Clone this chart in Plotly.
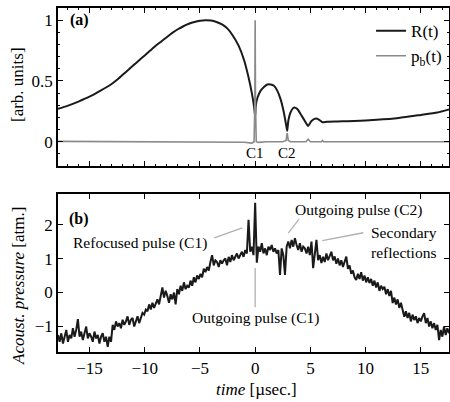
import numpy as np
import plotly.graph_objects as go

# ---- panel (a): bubble radius R(t) and bubble pressure p_b(t) ----
t_R = [-17.85, -17, -16, -15, -14, -13, -12.5, -12, -11.5, -11, -10.5, -10, -9.5, -9,
       -8.5, -8, -7.5, -7, -6.5, -6, -5.5, -5, -4.5, -4, -3.5, -3, -2.5, -2, -1.5,
       -1, -0.6, -0.3, -0.1, 0,
       0.05, 0.2, 0.5, 0.8, 1.1, 1.4, 1.7, 2.0, 2.3, 2.6, 2.8, 2.9,
       3.0, 3.2, 3.5, 3.8, 4.1, 4.5, 4.8, 5.1, 5.5, 5.8, 6.1, 6.5, 7.5,
       9, 11, 13, 15, 16.5, 17.55]
R_vals = [0.27, 0.295, 0.33, 0.37, 0.42, 0.475, 0.51, 0.55, 0.59, 0.63, 0.67, 0.71,
          0.75, 0.79, 0.825, 0.86, 0.895, 0.925, 0.95, 0.97, 0.985, 0.995, 1.0, 0.997,
          0.985, 0.965, 0.93, 0.87, 0.79, 0.67, 0.53, 0.40, 0.29, 0.21,
          0.29, 0.36, 0.42, 0.45, 0.47, 0.47, 0.46, 0.42, 0.35, 0.24, 0.14, 0.09,
          0.17, 0.24, 0.28, 0.27, 0.23, 0.17, 0.13, 0.17, 0.19, 0.18, 0.16, 0.165, 0.167,
          0.17, 0.18, 0.195, 0.22, 0.24, 0.265]

t_pb = [-17.85, -5, -1, -0.3, -0.1, -0.03, 0, 0.03, 0.1, 0.3, 1, 2.5, 2.8, 2.9,
        3.0, 3.2, 4.6, 4.8, 5.0, 6.0, 6.1, 6.2, 17.55]
pb_vals = [0.003, 0.0, -0.004, -0.012, 0.0, 0.3, 1.0, 0.3, 0.0, -0.006, 0.0, 0.0,
           0.01, 0.07, 0.01, 0.0, 0.0, 0.02, 0.0, 0.0, 0.01, 0.0, 0.0]

# ---- panel (b): measured acoustic pressure ----
t_start = -17.85
t_step = 0.15
p_vals = [
    -1.25, -1.45, -1.2, -1.5, -1.3, -1.1, -1.45, -1.25, -1.35, -1.05,
    -1.3, -1.1, -0.78, -1.3, -1.15, -1.4, -1.2, -1.0, -1.35, -1.2,
    -1.3, -1.45, -1.15, -1.35, -1.25, -1.5, -1.3, -1.2, -1.45, -1.3,
    -1.6, -1.3, -1.45, -0.95, -1.1, -0.85, -1.0, -0.9, -1.05, -0.8,
    -0.95, -0.85, -0.7, -0.95, -0.8, -0.75, -1.0, -0.85, -0.7, -0.9,
    -0.75, -0.6, -0.65, -0.5, -0.55, -0.35, -0.5, -0.3, -0.45, -0.35,
    -0.2, -0.35, -0.1, 0.15, -0.15, 0.05, -0.1, -0.3, -0.05, -0.2,
    0.0, -0.35, 0.1, -0.05, 0.2, 0.05, 0.3, 0.1, 0.2, 0.15,
    0.35, 0.2, 0.45, 0.3, 0.5, 0.4, 0.55, 0.45, 0.7, 0.6,
    0.75, 0.65, 0.9, 1.1, 0.8, 0.95, 0.9, 0.75, 0.95, 0.85,
    0.95, 1.0, 0.8, 1.05, 0.9, 1.1, 0.95, 1.05, 1.15, 1.0,
    1.1, 1.2, 1.05, 1.25, 1.15, 2.14, 1.2, 1.35, 1.1, 2.64,
    0.88, 1.35, 1.2, 1.45, 1.15, 1.3, 1.1, 1.35, 1.25, 1.4,
    1.2, 1.3, 1.15, 1.25, 0.52, 1.3, 1.1, 0.52, 1.35, 1.5,
    1.3, 1.55, 1.35, 1.6, 1.4, 1.25, 1.45, 1.2, 1.35, 1.3,
    1.15, 1.35, 1.1, 1.5, 0.72, 1.2, 1.55, 0.95, 1.1, 0.87,
    1.05, 0.9, 1.15, 0.95, 1.1, 1.2, 0.95, 1.06, 0.85, 1.0,
    0.8, 0.95, 0.75, 0.9, 1.06, 0.7, 0.8, 0.55, 0.65, 0.45,
    0.37, 0.55, 0.4, 0.6, 0.35, 0.5, 0.3, 0.45, 0.28, 0.4,
    0.2, 0.35, 0.15, 0.3, 0.05, 0.2, 0.1, 0.17, -0.05, 0.1,
    -0.1, 0.05, -0.31, -0.15, -0.35, -0.2, -0.45, -0.3, -0.5, -0.71,
    -0.55, -0.75, -0.6, -0.85, -0.65, -0.81, -0.7, -0.9, -0.75, -0.85,
    -0.7, -0.61, -0.9, -0.75, -1.0, -0.85, -1.05, -0.9, -1.1, -0.95,
    -1.4, -1.1, -1.3, -1.0, -1.25, -1.05, -1.2,
]
t_p = t_start + t_step * np.arange(len(p_vals))

xticks = [-15, -10, -5, 0, 5, 10, 15]
yticks_a = [0, 0.5, 1]
yticks_b = [-1, 0, 1, 2]

SERIF = "Liberation Serif, Times New Roman, Times, serif"
BLACK = "#1a1a1a"
GRAY = "#8a8a8a"
LEAD = "#b0b0b0"

fig = go.Figure()
fig.add_trace(go.Scatter(x=t_R, y=R_vals, mode="lines", name="R(t)",
                         line=dict(color=BLACK, width=2, shape="spline", smoothing=0.6),
                         xaxis="x", yaxis="y"))
fig.add_trace(go.Scatter(x=t_pb, y=pb_vals, mode="lines", name="p<sub>b</sub>(t)",
                         line=dict(color=GRAY, width=1.6), xaxis="x", yaxis="y"))
fig.add_trace(go.Scatter(x=t_p, y=p_vals, mode="lines", showlegend=False,
                         line=dict(color=BLACK, width=2), xaxis="x2", yaxis="y2"))

axis_common = dict(showline=True, linecolor="black", linewidth=1.5, mirror="allticks",
                   ticks="inside", ticklen=5, tickcolor="black", tickwidth=1,
                   showgrid=False, zeroline=False,
                   tickfont=dict(family=SERIF, size=17, color="black"))
xr = [-17.85, 17.55]
fig.update_layout(
    width=450, height=402,
    margin=dict(l=58, r=1, t=8, b=50, autoexpand=False),
    paper_bgcolor="white", plot_bgcolor="white",
    font=dict(family=SERIF, color="black"),
    xaxis=dict(domain=[0, 1], range=xr, tickvals=xticks, showticklabels=False,
               anchor="y", minor=dict(dtick=1, ticks="inside", ticklen=2.5, tickcolor="black"),
               **axis_common),
    yaxis=dict(domain=[0.5407, 1], range=[-0.2, 1.1], tickvals=yticks_a,
               ticktext=["0", "0.5", "1"], anchor="x",
               minor=dict(dtick=0.1, ticks="inside", ticklen=2.5, tickcolor="black"),
               **axis_common),
    xaxis2=dict(domain=[0, 1], range=xr, tickvals=xticks,
                ticktext=["\u221215", "\u221210", "\u22125", "0", "5", "10", "15"],
                anchor="y2", **axis_common),
    yaxis2=dict(domain=[0, 0.4593], range=[-1.75, 2.9], tickvals=yticks_b,
                ticktext=["\u22121", "0", "1", "2"], anchor="x2", **axis_common),
    legend=dict(x=0.995, y=0.985, xanchor="right", yanchor="top",
                bgcolor="rgba(0,0,0,0)", font=dict(family=SERIF, size=17),
                tracegroupgap=0),
    showlegend=True,
)

def px2paper(px, py):
    return (px - 58) / 391, (352 - py) / 344

ann = []
# panel labels
ann.append(dict(text="<b>(a)</b>", x=xr[0] + 0.9, y=1.0, xref="x", yref="y",
                xanchor="left", yanchor="middle", showarrow=False,
                font=dict(family=SERIF, size=16)))
ann.append(dict(text="<b>(b)</b>", x=xr[0] + 0.8, y=2.15, xref="x2", yref="y2",
                xanchor="left", yanchor="middle", showarrow=False,
                font=dict(family=SERIF, size=16)))
# C1 / C2
ann.append(dict(text="C1", x=0, y=-0.09, xref="x", yref="y", showarrow=False,
                font=dict(family=SERIF, size=15)))
ann.append(dict(text="C2", x=2.9, y=-0.09, xref="x", yref="y", showarrow=False,
                font=dict(family=SERIF, size=15)))
# axis titles (paper coordinates)
x_, y_ = px2paper(18, 85)
ann.append(dict(text="[arb. units]", x=x_, y=y_, xref="paper", yref="paper",
                xanchor="center", yanchor="middle",
                showarrow=False, textangle=-90, font=dict(family=SERIF, size=17)))
x_, y_ = px2paper(18, 286)
ann.append(dict(text="<i>Acoust. pressure</i> [atm.]", x=x_, y=y_,
                xref="paper", yref="paper", xanchor="center", yanchor="middle",
                showarrow=False, textangle=-90,
                font=dict(family=SERIF, size=17)))
x_, y_ = px2paper(256, 389)
ann.append(dict(text="<i>time</i> [\u00b5sec.]", x=x_, y=y_, xref="paper", yref="paper",
                xanchor="center", yanchor="middle",
                showarrow=False, font=dict(family=SERIF, size=17)))
# text callouts in panel (b)
cf = dict(family=SERIF, size=15.5, color="black")
ann.append(dict(text="Refocused pulse (C1)", x=-10.45, y=1.46, xref="x2", yref="y2",
                showarrow=False, font=cf))
ann.append(dict(text="Outgoing pulse (C1)", x=0, y=-0.76, xref="x2", yref="y2",
                showarrow=False, font=cf))
ann.append(dict(text="Outgoing pulse (C2)", x=9.4, y=2.42, xref="x2", yref="y2",
                showarrow=False, font=cf))
ann.append(dict(text="Secondary<br>reflections", x=13.45, y=1.46, xref="x2", yref="y2",
                showarrow=False, font=cf))
fig.update_layout(annotations=ann)

# leader lines from callouts to features
shapes = []
for (x0, y0, x1, y1) in [(-3.7, 1.61, -1.17, 1.90), (0, 0.72, 0, -0.43),
                         (3.0, 1.75, 3.97, 2.16), (6.08, 1.53, 9.8, 1.76)]:
    shapes.append(dict(type="line", x0=x0, y0=y0, x1=x1, y1=y1, xref="x2", yref="y2",
                       line=dict(color=LEAD, width=1.3)))
fig.update_layout(shapes=shapes)

fig.write_html("out.html", config={"displayModeBar": False},
               post_script="document.body.style.margin='0';document.body.style.overflow='hidden';")
